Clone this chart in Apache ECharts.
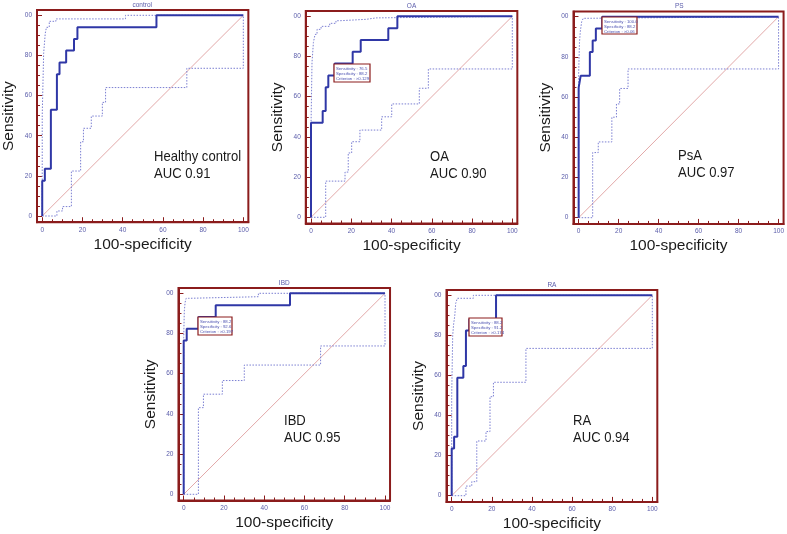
<!DOCTYPE html>
<html>
<head>
<meta charset="utf-8">
<script src="https://cdn.jsdelivr.net/npm/echarts@6/dist/echarts.min.js"></script>
<style>html,body{margin:0;padding:0;background:#fff}#c{width:787px;height:534px}</style>
</head>
<body>
<div id="c"></div>
<script>
// ---- data (100-specificity, sensitivity) corner points of step curves ----
const panelTitles = ['control', 'OA', 'PS', 'IBD', 'RA'];
const panelLabels = ['Healthy control\nAUC 0.91', 'OA\nAUC 0.90', 'PsA\nAUC 0.97', 'IBD\nAUC 0.95', 'RA\nAUC 0.94'];
const majorTicks = [0, 20, 40, 60, 80, 100];
const minorTicks = [5, 10, 15, 25, 30, 35, 45, 50, 55, 65, 70, 75, 85, 90, 95];
const diagonal = [[0, 0], [100, 100]];

const rocControl = [[0,0],[0,17.6],[1.3,23.5],[4.3,52.9],[7.3,70.6],[8.6,76.5],[11.9,82.4],[15.8,88.2],[17.5,94.1],[56.8,100],[100,100]];
const upperControl = [[0,0],[0,50],[0.7,81],[1.5,91],[2.1,94],[3.5,97],[6.8,98.2],[41.4,100],[100,100]];
const lowerControl = [[0,0],[7.3,2.5],[10.1,4.7],[14.5,22.4],[19.1,37],[20.5,43.7],[24.4,49.8],[29.9,56.6],[31.5,64],[71.9,73.6],[100,100]];

const rocOA = [[0,0],[0,47.1],[5.8,52.9],[7.3,64.7],[8.6,70.6],[11.8,76.5],[20.7,82.4],[24.7,88.2],[38.4,94.1],[42.9,100],[100,100]];
const upperOA = [[0,0],[0,45],[0.5,77],[1.2,87],[2,91],[3,93.5],[5,95],[9.3,96.5],[12.4,97.8],[14.4,98.5],[27.5,99.2],[32.3,100],[100,100]];
const lowerOA = [[0,0],[7.3,18],[16.9,22.5],[18.5,32],[20.2,37.6],[24.3,43.4],[35.1,50],[40.1,56.4],[53.8,64.2],[58.3,73.8],[100,100]];

const rocPsA = [[0,0],[0,64.7],[1.0,70.6],[5.6,82.4],[7.0,88.2],[8.6,94.1],[11.8,100],[100,100]];
const upperPsA = [[0,0],[0,72],[0.4,87],[0.8,92.5],[1.5,97.5],[2.3,99.2],[4,100],[100,100]];
const lowerPsA = [[0,0],[7,32.4],[9.8,37.7],[16.6,50],[18.9,56.6],[20.5,64.3],[24.7,74],[100,100]];

const rocIBD = [[0,0],[0,76.5],[1.5,82.4],[7.4,88.2],[15.9,94.1],[52.8,100],[100,100]];
const upperIBD = [[0,0],[0,78],[0.3,91],[0.7,95.5],[1.2,97.5],[2.3,98.3],[37.1,100],[100,100]];
const lowerIBD = [[0,0],[7.3,43.1],[9.8,49.8],[19.2,56.6],[30.1,64.3],[68,73.8],[100,100]];

const rocRA = [[0,0],[0,23.5],[1.2,29.4],[2.8,58.8],[5.8,64.7],[7.1,82.4],[8.8,88.2],[22.1,100],[100,100]];
const upperRA = [[0,0],[0,50],[0.5,80],[1,86],[1.5,89.5],[2,96],[2.8,98.5],[10.8,100],[100,100]];
const lowerRA = [[0,0],[7.1,4.8],[10,7],[12.5,27.3],[17.1,32],[19.1,49.4],[20.8,56.6],[37,73.5],[100,100]];

const criterionText = [
  null,
  ['Sensitivity : 76.5', 'Specificity : 88.2', 'Criterion : >0.129'],
  ['Sensitivity : 100.0', 'Specificity : 88.2', 'Criterion : >0.06'],
  ['Sensitivity : 88.2', 'Specificity : 92.6', 'Criterion : >0.197'],
  ['Sensitivity : 88.2', 'Specificity : 91.2', 'Criterion : >0.174']
];

const curves = [
  [rocControl, upperControl, lowerControl],
  [rocOA, upperOA, lowerOA],
  [rocPsA, upperPsA, lowerPsA],
  [rocIBD, upperIBD, lowerIBD],
  [rocRA, upperRA, lowerRA]
];

// ---- layout (pixel positions of data corners: x0, x100, y0, y100) ----
const corners = [
  [41.3, 243.3, 216, 15.3],
  [311, 512.3, 217.3, 16.3],
  [578.7, 780, 217.7, 16.7],
  [183.7, 385, 494.3, 293.3],
  [451.7, 652.3, 495.7, 295.3]
];
const labelPos = [[154, 148], [430, 148], [678, 147], [284, 412.5], [573, 412.5]];
const boxPos = [null, [334, 64, 36, 18], [602, 17, 35, 17], [198, 317, 34, 18], [469, 318, 33, 18]];

const xMin = -2.6, xMax = 102.5, yMin = -3.1, yMax = 102.6;
const RED = '#8b1c1c', BLUE = '#2f37a6', CI = '#7b7fd2', DIAG = '#e3a9a9', TICKTXT = '#5a5caa';

const grids = [], xAxes = [], yAxes = [], series = [], graphics = [];
corners.forEach((c, i) => {
  const sx = (c[1] - c[0]) / 100, sy = (c[2] - c[3]) / 100;
  grids.push({
    left: c[0] + xMin * sx, width: (xMax - xMin) * sx,
    top: c[3] - (yMax - 100) * sy, height: (yMax - yMin) * sy,
    show: true, borderColor: RED, borderWidth: 2, backgroundColor: '#fff'
  });
  const common = { type: 'value', gridIndex: i, min: xMin, max: xMax, splitLine: { show: false } };
  xAxes.push(Object.assign({}, common, {
    position: 'bottom',
    name: '100-specificity', nameLocation: 'middle', nameGap: 14,
    nameTextStyle: { fontFamily: 'Liberation Sans', fontSize: 15.5, color: '#1a1a1a', verticalAlign: 'top' },
    axisLine: { show: true, onZero: false, lineStyle: { color: RED, width: 2 } },
    axisTick: { show: true, inside: true, length: 5, customValues: majorTicks, lineStyle: { color: RED, width: 1 } },
    axisLabel: { show: true, customValues: majorTicks, fontSize: 6.5, color: TICKTXT, margin: 4, fontFamily: 'Liberation Sans' }
  }));
  xAxes.push(Object.assign({}, common, {
    position: 'bottom',
    axisLine: { show: false, onZero: false },
    axisTick: { show: true, inside: true, length: 3, customValues: minorTicks, lineStyle: { color: RED, width: 1 } },
    axisLabel: { show: false }
  }));
  const ycommon = { type: 'value', gridIndex: i, min: yMin, max: yMax, splitLine: { show: false } };
  yAxes.push(Object.assign({}, ycommon, {
    position: 'left',
    name: 'Sensitivity', nameLocation: 'middle', nameGap: 20,
    nameTextStyle: { fontFamily: 'Liberation Sans', fontSize: 15.5, color: '#1a1a1a' },
    axisLine: { show: true, onZero: false, lineStyle: { color: RED, width: 2 } },
    axisTick: { show: true, inside: true, length: 5, customValues: majorTicks, lineStyle: { color: RED, width: 1 } },
    axisLabel: { show: true, customValues: majorTicks, fontSize: 6.5, color: TICKTXT, margin: 5, fontFamily: 'Liberation Sans',
      formatter: v => (v === 100 ? '00' : String(v)) }
  }));
  yAxes.push(Object.assign({}, ycommon, {
    position: 'left',
    axisLine: { show: false, onZero: false },
    axisTick: { show: true, inside: true, length: 3, customValues: minorTicks, lineStyle: { color: RED, width: 1 } },
    axisLabel: { show: false }
  }));

  const xi = 2 * i, yi = 2 * i;
  series.push({ type: 'line', xAxisIndex: xi, yAxisIndex: yi, data: diagonal, symbol: 'none', silent: true,
    color: DIAG, lineStyle: { color: DIAG, width: 1, opacity: 1 }, z: 2 });
  series.push({ type: 'line', xAxisIndex: xi, yAxisIndex: yi, data: curves[i][1], step: 'end', symbol: 'none',
    color: CI, lineStyle: { color: CI, width: 1, type: [1.5, 1.5] }, z: 3 });
  series.push({ type: 'line', xAxisIndex: xi, yAxisIndex: yi, data: curves[i][2], step: 'end', symbol: 'none',
    color: CI, lineStyle: { color: CI, width: 1, type: [1.5, 1.5] }, z: 3 });
  series.push({ type: 'line', xAxisIndex: xi, yAxisIndex: yi, data: curves[i][0], step: 'end', symbol: 'none',
    color: BLUE, lineStyle: { color: BLUE, width: 2 }, z: 4 });

  // panel title
  const g = grids[i];
  graphics.push({ type: 'text', x: g.left + g.width / 2, y: g.top - 8.5, z: 10,
    style: { text: panelTitles[i], fill: TICKTXT, fontSize: 6.5, fontFamily: 'Liberation Sans', textAlign: 'center' } });
  // annotation
  graphics.push({ type: 'text', x: labelPos[i][0], y: labelPos[i][1], scaleX: 0.9, z: 10,
    style: { text: panelLabels[i], fill: '#1a1a1a', fontSize: 14.5, lineHeight: 17, fontFamily: 'Liberation Sans' } });
  // criterion box
  if (boxPos[i]) {
    const b = boxPos[i];
    graphics.push({ type: 'rect', shape: { x: b[0], y: b[1], width: b[2], height: b[3] }, z: 20,
      style: { fill: '#fff', stroke: RED, lineWidth: 1.2 } });
    graphics.push({ type: 'text', x: b[0] + 2, y: b[1] + 2, z: 21,
      style: { text: criterionText[i].join('\n'), fill: '#4a4fb0', fontSize: 4.3, lineHeight: 5, fontFamily: 'Liberation Sans' } });
  }
});

const chart = echarts.init(document.getElementById('c'), null, { renderer: 'canvas' });
chart.setOption({
  animation: false,
  backgroundColor: '#fff',
  grid: grids, xAxis: xAxes, yAxis: yAxes, series: series, graphic: graphics
});
</script>
</body>
</html>
